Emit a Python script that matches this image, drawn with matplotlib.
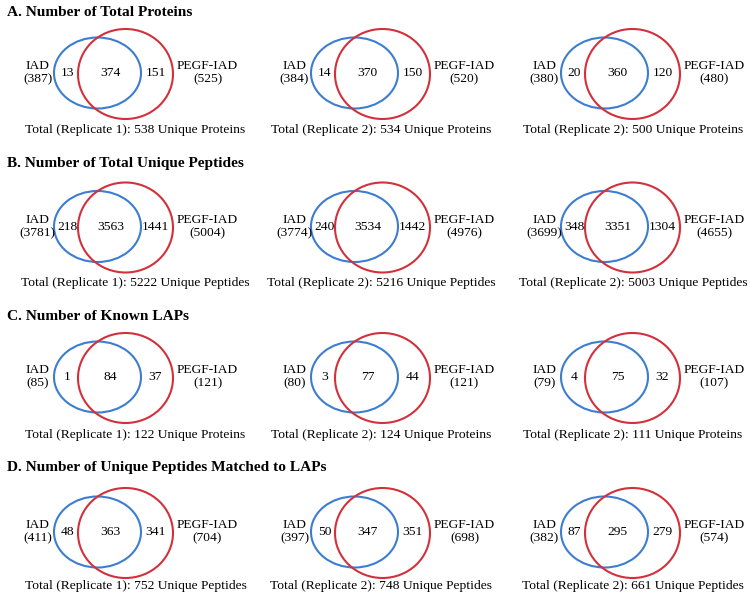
import matplotlib
matplotlib.use("Agg")
import matplotlib.pyplot as plt
from matplotlib.patches import Ellipse

plt.rcParams['font.family'] = ['Liberation Serif', 'DejaVu Serif']

panel_titles = [
    "A. Number of Total Proteins",
    "B. Number of Total Unique Peptides",
    "C. Number of Known LAPs",
    "D. Number of Unique Peptides Matched to LAPs",
]
set_a_name = "IAD"
set_b_name = "PEGF-IAD"
only_iad = [[13, 14, 20], [218, 240, 348], [1, 3, 4], [48, 50, 87]]
overlap = [[374, 370, 360], [3563, 3534, 3351], [84, 77, 75], [363, 347, 295]]
only_pegf = [[151, 150, 120], [1441, 1442, 1304], [37, 44, 32], [341, 351, 279]]
iad_totals = [[387, 384, 380], [3781, 3774, 3699], [85, 80, 79], [411, 397, 382]]
pegf_totals = [[525, 520, 480], [5004, 4976, 4655], [121, 121, 107], [704, 698, 574]]
union_totals = [[538, 534, 500], [5222, 5216, 5003], [122, 124, 111], [752, 748, 661]]
replicates = [1, 2, 2]
units = ["Proteins", "Peptides", "Proteins", "Peptides"]

# layout (pixel space)
col_cx = [97.5, 354.5, 604.5]
col_total_x = [135.5, 381, 633]
row_cy = [73, 226.5, 377, 532]
row_title_y = [13, 163, 317, 468]
row_total_y = [130, 283, 435, 586]

blue = "#3C7DD0"
red = "#D2313B"

fig = plt.figure(figsize=(7.5, 6.02), dpi=100)
ax = fig.add_axes([0, 0, 1, 1])
ax.set_xlim(0, 750)
ax.set_ylim(602, 0)
ax.axis("off")

fs = 9.7
for r in range(4):
    ax.text(7, row_title_y[r], panel_titles[r], fontsize=11.1, fontweight="bold",
            ha="left", va="center")
    for c in range(3):
        cx = col_cx[c]
        cy = row_cy[r]
        ax.add_patch(Ellipse((cx, cy), 87, 71, fill=False, ec=blue, lw=1.5))
        ax.add_patch(Ellipse((cx + 28, cy + 1), 95, 90, fill=False, ec=red, lw=1.5))
        ax.text(cx - 60, cy, f"{set_a_name}\n({iad_totals[r][c]})", fontsize=fs,
                ha="center", va="center", linespacing=1.15)
        ax.text(cx + 110, cy, f"{set_b_name}\n({pegf_totals[r][c]})", fontsize=fs,
                ha="center", va="center", linespacing=1.15)
        ax.text(cx - 30, cy, str(only_iad[r][c]), fontsize=fs, ha="center", va="center")
        ax.text(cx + 13, cy, str(overlap[r][c]), fontsize=fs, ha="center", va="center")
        ax.text(cx + 58, cy, str(only_pegf[r][c]), fontsize=fs, ha="center", va="center")
        ax.text(col_total_x[c], row_total_y[r],
                f"Total (Replicate {replicates[c]}): {union_totals[r][c]} Unique {units[r]}",
                fontsize=fs, ha="center", va="center")

fig.savefig("out.png", dpi=100)
